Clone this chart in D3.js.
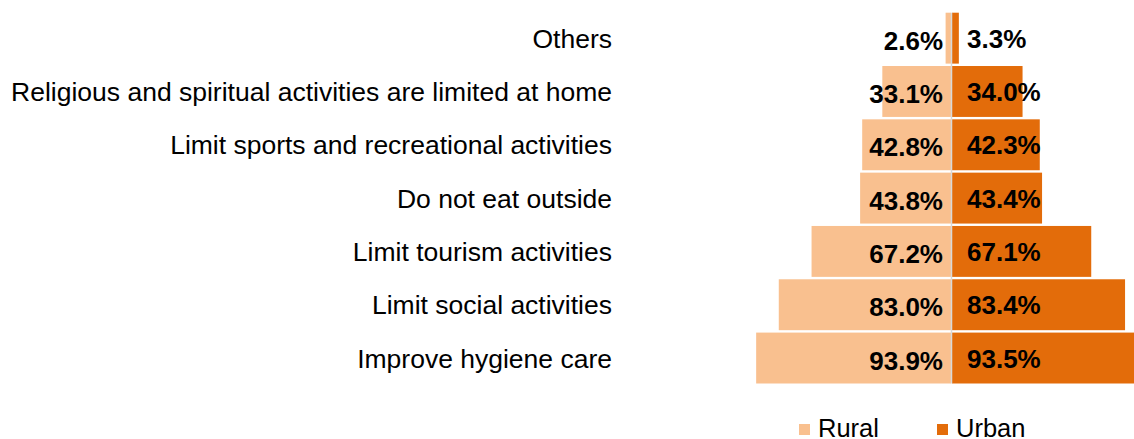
<!DOCTYPE html>
<html>
<head>
<meta charset="utf-8">
<script src="https://cdn.jsdelivr.net/npm/d3@7"></script>
<style>
  html, body { margin: 0; padding: 0; background: #fff; }
  svg { display: block; }
  text { font-family: "Liberation Sans", Arial, sans-serif; }
</style>
</head>
<body>
<svg id="chart" width="1134" height="439"></svg>
<script>
// Reasons / behaviours, listed top to bottom
const categories = [
  "Others",
  "Religious and spiritual activities are limited at home",
  "Limit sports and recreational activities",
  "Do not eat outside",
  "Limit tourism activities",
  "Limit social activities",
  "Improve hygiene care"
];
// Share of respondents (%)
const ruralValues = [2.6, 33.1, 42.8, 43.8, 67.2, 83.0, 93.9];
const urbanValues = [3.3, 34.0, 42.3, 43.4, 67.1, 83.4, 93.5];
const seriesNames = ["Rural", "Urban"];
const seriesColors = ["#F9C08F", "#E36C0A"];

const svg = d3.select("#chart");
const centerX = 951.5;

const y = d3.scaleBand()
  .domain(categories)
  .range([12.7, 383.5])
  .paddingInner(0.045)
  .paddingOuter(0);

const w = d3.scaleLinear().domain([0, 100]).range([0, 207.5]);

const rows = categories.map((c, i) => ({ cat: c, rural: ruralValues[i], urban: urbanValues[i] }));

// Rural bars grow to the left of the centre line
svg.append("g").selectAll("rect")
  .data(rows).join("rect")
  .attr("x", d => centerX - 0.5 - w(d.rural))
  .attr("y", d => y(d.cat))
  .attr("width", d => w(d.rural))
  .attr("height", y.bandwidth())
  .attr("fill", seriesColors[0]);

// Urban bars grow to the right
svg.append("g").selectAll("rect")
  .data(rows).join("rect")
  .attr("x", centerX + 0.5)
  .attr("y", d => y(d.cat))
  .attr("width", d => w(d.urban))
  .attr("height", y.bandwidth())
  .attr("fill", seriesColors[1]);

// Centre axis line
svg.append("line")
  .attr("x1", centerX).attr("x2", centerX)
  .attr("y1", y.range()[0]).attr("y2", y.range()[1])
  .attr("stroke", "#D9D9D9").attr("stroke-width", 1.5);

// Category labels
svg.append("g").selectAll("text")
  .data(rows).join("text")
  .attr("x", 612)
  .attr("y", d => y(d.cat) + y.bandwidth() / 2 + 9.7)
  .attr("text-anchor", "end")
  .attr("font-size", 26.5)
  .attr("fill", "#000")
  .text(d => d.cat);

// Value labels
svg.append("g").selectAll("text")
  .data(rows).join("text")
  .attr("x", 943)
  .attr("y", d => y(d.cat) + y.bandwidth() / 2 + 11.5)
  .attr("text-anchor", "end")
  .attr("font-size", 26)
  .attr("font-weight", "bold")
  .attr("fill", "#000")
  .text(d => d.rural.toFixed(1) + "%");

svg.append("g").selectAll("text")
  .data(rows).join("text")
  .attr("x", 967)
  .attr("y", d => y(d.cat) + y.bandwidth() / 2 + 9.5)
  .attr("text-anchor", "start")
  .attr("font-size", 26)
  .attr("font-weight", "bold")
  .attr("fill", "#000")
  .text(d => d.urban.toFixed(1) + "%");

// Legend
const legendX = [799, 937];
const legend = svg.append("g").selectAll("g")
  .data(seriesNames).join("g")
  .attr("transform", (d, i) => `translate(${legendX[i]},424)`);
legend.append("rect")
  .attr("width", 11).attr("height", 11)
  .attr("fill", (d, i) => seriesColors[i]);
legend.append("text")
  .attr("x", 19).attr("y", 12.5)
  .attr("font-size", 25.5)
  .attr("fill", "#000")
  .text(d => d);
</script>
</body>
</html>
